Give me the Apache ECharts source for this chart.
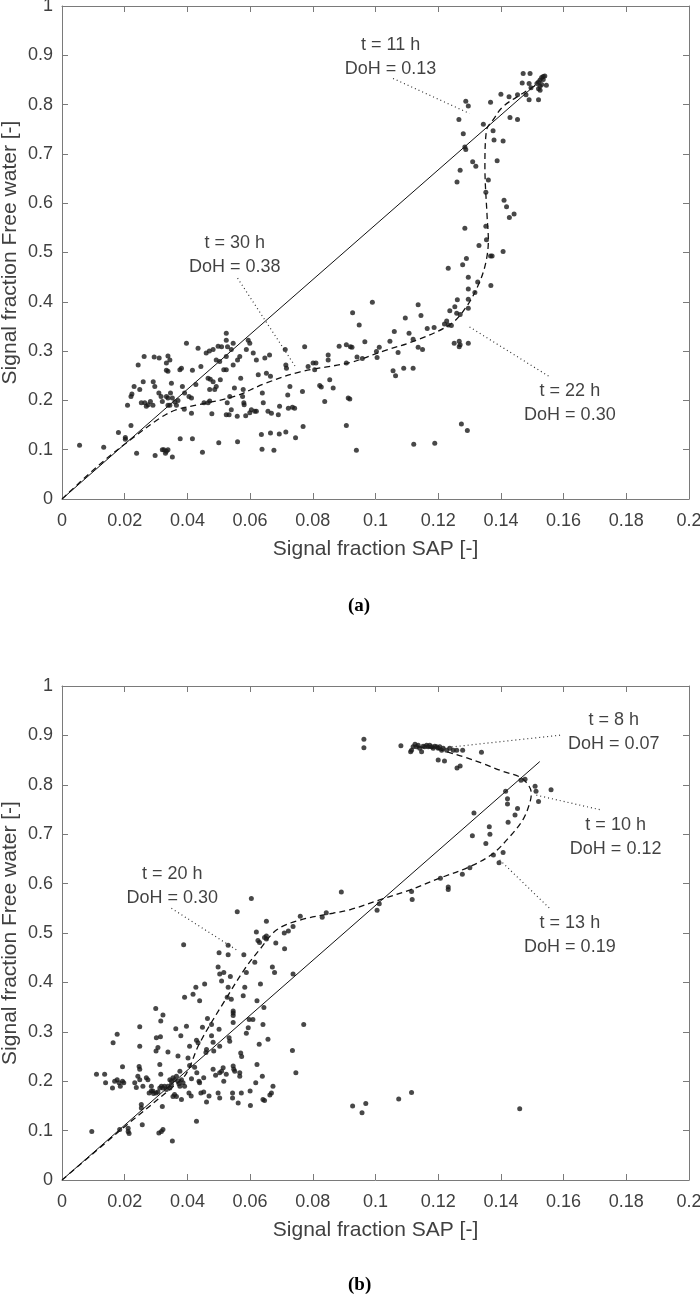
<!DOCTYPE html>
<html><head><meta charset="utf-8">
<script src="https://cdn.jsdelivr.net/npm/echarts@6/dist/echarts.min.js"></script>
<style>html,body{margin:0;padding:0;background:#fff}#c{width:700px;height:1297px}</style>
</head><body><div id="c"></div>
<script>
// ---------- DATA ----------
const xTitle = 'Signal fraction SAP [-]';
const yTitle = 'Signal fraction Free water [-]';
const captionA = '(a)';
const captionB = '(b)';

const pointsA = [
[0.0056,0.109],[0.0133,0.105],[0.018,0.135],[0.0202,0.125],[0.0202,0.121],[0.022,0.149],[0.0238,0.093],[0.0297,0.088],[0.032,0.1],[0.0325,0.1],[0.0333,0.097],[0.033,0.093],[0.0338,0.1],[0.0352,0.085],[0.0377,0.122],[0.0416,0.122],[0.0448,0.095],[0.050,0.114],[0.056,0.116],[0.0638,0.101],[0.0676,0.099],[0.0636,0.131],[0.0665,0.134],[0.0693,0.132],[0.0714,0.136],[0.0745,0.124],[0.0769,0.147],[0.0907,0.149],
[0.0209,0.19],[0.022,0.208],[0.0223,0.213],[0.023,0.228],[0.0243,0.272],[0.0248,0.222],[0.0259,0.238],[0.0262,0.289],[0.0253,0.195],[0.0264,0.195],[0.0269,0.188],[0.0275,0.191],[0.0282,0.198],[0.029,0.19],[0.0294,0.288],[0.0296,0.228],[0.0291,0.238],[0.031,0.286],[0.0309,0.215],[0.0316,0.208],[0.032,0.198],[0.0333,0.276],[0.0338,0.29],[0.0344,0.282],[0.0333,0.261],[0.0338,0.259],[0.0349,0.235],[0.0333,0.208],[0.0338,0.205],[0.0346,0.215],[0.0352,0.205],[0.0338,0.19],[0.0344,0.19],[0.0365,0.19],[0.037,0.2],[0.036,0.197],[0.0376,0.262],[0.0381,0.265],[0.0384,0.228],[0.0391,0.215],[0.0397,0.316],[0.039,0.182],[0.0405,0.208],[0.0413,0.205],[0.0416,0.261],[0.0413,0.174],[0.0427,0.232],[0.0434,0.306],[0.0443,0.269],[0.0453,0.195],[0.0466,0.195],[0.0471,0.199],[0.046,0.296],[0.047,0.3],[0.0482,0.303],[0.0466,0.245],[0.0473,0.243],[0.0482,0.238],[0.0471,0.222],[0.0487,0.222],[0.0492,0.228],[0.0478,0.173],[0.0498,0.31],[0.0509,0.309],[0.0492,0.282],[0.0503,0.279],[0.0505,0.242],[0.0516,0.262],[0.0524,0.262],[0.0524,0.336],[0.0524,0.322],[0.0528,0.309],[0.0524,0.289],[0.0527,0.195],[0.0524,0.171],[0.0533,0.171],[0.0535,0.208],[0.054,0.181],[0.054,0.303],[0.0546,0.316],[0.0546,0.272],[0.055,0.225],[0.0559,0.168],[0.056,0.282],[0.0567,0.289],[0.057,0.245],[0.0576,0.208],[0.0578,0.222],[0.058,0.195],[0.0581,0.191],[0.0586,0.169],[0.0588,0.303],[0.0594,0.322],[0.0599,0.316],[0.0599,0.175],[0.0604,0.181],[0.0615,0.178],[0.062,0.178],[0.061,0.296],[0.062,0.282],[0.0626,0.252],[0.0639,0.215],[0.0642,0.195],[0.0647,0.286],[0.0652,0.255],[0.0657,0.178],[0.0662,0.292],[0.0665,0.249],[0.0668,0.174],[0.069,0.171],[0.0694,0.188],[0.0712,0.303],[0.0714,0.272],[0.0716,0.265],[0.072,0.211],[0.0722,0.184],[0.0727,0.228],[0.0735,0.186],[0.0742,0.184],[0.0767,0.218],[0.0774,0.309],[0.0785,0.269],[0.0801,0.276],[0.081,0.276],[0.0806,0.262],[0.0822,0.23],[0.0827,0.227],[0.0838,0.198],[0.0849,0.292],[0.0849,0.282],[0.0854,0.242],[0.0865,0.225],[0.0884,0.31],[0.0907,0.313],[0.0907,0.276],[0.0913,0.205],
[0.1407,0.502],[0.1367,0.493],[0.1372,0.493],[0.129,0.488],[0.1278,0.475],[0.1232,0.468],[0.1296,0.45],[0.1326,0.44],[0.1296,0.426],[0.1317,0.419],[0.1368,0.433],[0.1261,0.404],[0.1296,0.405],[0.1136,0.394],[0.099,0.399],[0.0927,0.378],[0.0948,0.353],[0.1237,0.382],[0.1253,0.39],[0.1259,0.377],[0.127,0.374],[0.1296,0.387],[0.1095,0.367],[0.1145,0.372],[0.1165,0.346],[0.1187,0.348],[0.122,0.355],[0.1232,0.353],[0.1242,0.352],[0.1227,0.361],[0.106,0.34],[0.1107,0.336],[0.112,0.324],[0.1046,0.32],[0.0966,0.319],[0.092,0.309],[0.0925,0.308],[0.1136,0.308],[0.115,0.303],[0.1012,0.308],[0.1003,0.299],[0.1005,0.287],[0.1072,0.297],[0.0941,0.288],[0.0958,0.285],[0.1251,0.316],[0.1267,0.32],[0.127,0.313],[0.1267,0.309],[0.1296,0.316],[0.1056,0.26],[0.1064,0.25],[0.109,0.265],[0.112,0.265],[0.0918,0.203],[0.1274,0.152],[0.1293,0.139],[0.1122,0.111],[0.1189,0.113],[0.0939,0.099],
[0.1471,0.863],[0.1493,0.863],[0.1468,0.844],[0.149,0.843],[0.1496,0.834],[0.1515,0.843],[0.152,0.846],[0.1525,0.85],[0.153,0.855],[0.1535,0.857],[0.154,0.858],[0.152,0.832],[0.1525,0.837],[0.1525,0.829],[0.153,0.841],[0.1535,0.851],[0.1545,0.839],[0.14,0.821],[0.1426,0.816],[0.1453,0.82],[0.148,0.82],[0.149,0.81],[0.152,0.81],[0.1288,0.807],[0.1296,0.797],[0.1367,0.805],[0.1266,0.77],[0.1344,0.76],[0.1429,0.774],[0.1453,0.77],[0.128,0.741],[0.1375,0.747],[0.1285,0.714],[0.1288,0.709],[0.1378,0.728],[0.1407,0.726],[0.131,0.684],[0.132,0.675],[0.1388,0.686],[0.127,0.667],[0.126,0.643],[0.136,0.647],[0.1352,0.622],[0.141,0.606],[0.1418,0.593],[0.1427,0.571],[0.1442,0.578],[0.1285,0.549],[0.1352,0.553],[0.1354,0.526],[0.133,0.514]
];
const diagA = [[0,0],[0.151,0.84]];
const trendA = [[0,0],[0.012,0.07],[0.023,0.126],[0.031,0.163],[0.036,0.18],[0.044,0.192],[0.055,0.208],[0.065,0.235],[0.076,0.258],[0.092,0.277],[0.102,0.299],[0.113,0.322],[0.124,0.355],[0.129,0.39],[0.133,0.437],[0.1352,0.48],[0.136,0.525],[0.1356,0.573],[0.1349,0.674],[0.1354,0.748],[0.1375,0.769],[0.1407,0.796],[0.147,0.823],[0.1513,0.84]];
const annotA = [
  {text:'t = 11 h\nDoH = 0.13', at:[0.1048,0.897], from:[0.1056,0.853], to:[0.130,0.782]},
  {text:'t = 30 h\nDoH = 0.38', at:[0.0551,0.495], from:[0.056,0.448], to:[0.0748,0.265]},
  {text:'t = 22 h\nDoH = 0.30', at:[0.162,0.195], from:[0.130,0.349], to:[0.1555,0.248]}
];

const pointsB = [
[0.0095,0.098],[0.011,0.214],[0.0136,0.214],[0.0139,0.197],[0.0163,0.278],[0.0176,0.295],[0.0161,0.186],[0.0168,0.2],[0.0176,0.203],[0.0182,0.197],[0.0186,0.19],[0.0193,0.2],[0.0197,0.197],[0.0193,0.229],[0.0184,0.102],[0.0211,0.105],[0.0211,0.098],[0.0214,0.094],[0.0232,0.197],[0.0237,0.187],[0.0242,0.21],[0.0248,0.203],[0.0246,0.23],[0.0248,0.224],[0.0248,0.31],[0.0248,0.271],[0.0253,0.153],[0.0253,0.146],[0.0256,0.112],[0.0258,0.19],[0.0269,0.207],[0.0274,0.203],[0.0285,0.19],[0.0278,0.176],[0.0285,0.18],[0.029,0.18],[0.0292,0.175],[0.03,0.176],[0.0306,0.178],[0.0299,0.347],[0.03,0.261],[0.0306,0.268],[0.0301,0.288],[0.0314,0.29],[0.0309,0.095],[0.0317,0.098],[0.0322,0.102],[0.0315,0.322],[0.0322,0.334],[0.0312,0.234],[0.0315,0.214],[0.032,0.149],[0.0312,0.186],[0.0317,0.19],[0.0322,0.186],[0.0327,0.19],[0.0333,0.183],[0.0338,0.19],[0.0344,0.186],[0.0349,0.193],[0.0352,0.079],[0.0338,0.259],[0.0344,0.203],[0.0349,0.2],[0.0354,0.207],[0.0359,0.203],[0.0365,0.21],[0.037,0.2],[0.0373,0.195],[0.0376,0.19],[0.0381,0.203],[0.0386,0.197],[0.0391,0.19],[0.0354,0.169],[0.0359,0.173],[0.0365,0.169],[0.0363,0.306],[0.037,0.251],[0.0376,0.22],[0.0379,0.292],[0.0381,0.163],[0.0391,0.37],[0.0397,0.311],[0.0402,0.247],[0.0407,0.232],[0.0405,0.176],[0.0412,0.17],[0.0407,0.271],[0.0413,0.205],[0.0418,0.376],[0.0423,0.228],[0.043,0.217],[0.0427,0.39],[0.0429,0.119],[0.0429,0.283],[0.0434,0.278],[0.0439,0.363],[0.0437,0.2],[0.0439,0.197],[0.0443,0.176],[0.0452,0.178],[0.0448,0.309],[0.0452,0.207],[0.0459,0.258],[0.0461,0.264],[0.0455,0.397],[0.0461,0.158],[0.0464,0.327],[0.0469,0.17],[0.0477,0.292],[0.0477,0.315],[0.0482,0.279],[0.0484,0.261],[0.0482,0.224],[0.049,0.212],[0.0498,0.431],[0.0498,0.176],[0.0501,0.46],[0.0503,0.417],[0.0516,0.42],[0.0501,0.305],[0.0503,0.271],[0.0503,0.217],[0.0509,0.22],[0.0503,0.166],[0.0509,0.403],[0.0514,0.227],[0.0516,0.2],[0.0524,0.214],[0.0527,0.37],[0.053,0.456],[0.053,0.475],[0.053,0.39],[0.0535,0.281],[0.0533,0.288],[0.0537,0.412],[0.054,0.366],[0.0546,0.342],[0.0546,0.338],[0.0546,0.333],[0.0546,0.319],[0.0544,0.176],[0.0544,0.166],[0.0546,0.231],[0.0548,0.224],[0.0551,0.22],[0.0562,0.156],[0.0567,0.21],[0.0567,0.217],[0.057,0.257],[0.0573,0.25],[0.0572,0.176],[0.058,0.456],[0.0578,0.373],[0.0583,0.39],[0.0588,0.297],[0.0588,0.42],[0.0594,0.308],[0.0597,0.325],[0.06,0.18],[0.0601,0.151],[0.0609,0.325],[0.0615,0.441],[0.0618,0.197],[0.0622,0.363],[0.0622,0.234],[0.0629,0.275],[0.063,0.481],[0.0633,0.397],[0.0639,0.21],[0.0641,0.163],[0.0646,0.161],[0.0641,0.315],[0.0644,0.349],[0.0652,0.488],[0.0657,0.285],[0.0663,0.172],[0.0668,0.176],[0.0671,0.431],[0.0673,0.19],[0.0678,0.42],[0.0682,0.48],[0.071,0.468],[0.0735,0.262],[0.0737,0.417],[0.0746,0.217],[0.0771,0.315],
[0.0388,0.476],[0.0559,0.543],[0.0604,0.57],[0.062,0.502],[0.0625,0.485],[0.0646,0.491],[0.0652,0.494],[0.0652,0.524],[0.0709,0.5],[0.0722,0.504],[0.0737,0.513],[0.076,0.534],[0.0891,0.583],[0.083,0.532],[0.0843,0.541],
[0.0963,0.892],[0.0963,0.875],[0.1081,0.879],[0.1115,0.87],[0.112,0.877],[0.1126,0.882],[0.1131,0.877],[0.1136,0.88],[0.1141,0.874],[0.1147,0.867],[0.1152,0.878],[0.1157,0.877],[0.1163,0.88],[0.1168,0.877],[0.1173,0.88],[0.1179,0.877],[0.1184,0.874],[0.1189,0.878],[0.1195,0.877],[0.12,0.874],[0.1205,0.877],[0.1211,0.87],[0.1216,0.874],[0.1227,0.87],[0.1237,0.874],[0.1248,0.87],[0.1259,0.87],[0.1278,0.87],[0.1338,0.866],[0.1112,0.867],
[0.12,0.85],[0.122,0.848],[0.126,0.834],[0.127,0.838],[0.1464,0.809],[0.1477,0.811],[0.1415,0.787],[0.1509,0.797],[0.1512,0.787],[0.156,0.79],[0.152,0.766],[0.1421,0.772],[0.1421,0.761],[0.1453,0.752],[0.1445,0.739],[0.1314,0.743],[0.1423,0.724],[0.1363,0.715],[0.1365,0.7],[0.1309,0.697],[0.1352,0.681],[0.1376,0.658],[0.1407,0.663],[0.1394,0.642],[0.1301,0.632],[0.1277,0.619],[0.1207,0.611],[0.1232,0.593],[0.1232,0.588],[0.1115,0.584],[0.1117,0.568],[0.1012,0.559],[0.1005,0.546],
[0.0927,0.15],[0.0957,0.136],[0.0969,0.155],[0.1074,0.164],[0.1115,0.177],[0.146,0.144]
];
const diagB = [[0,0],[0.1524,0.847]];
const trendB = [[0,0],[0.02,0.108],[0.036,0.192],[0.0397,0.216],[0.0439,0.277],[0.0524,0.368],[0.0588,0.432],[0.063,0.466],[0.0684,0.506],[0.0758,0.526],[0.0864,0.54],[0.0918,0.547],[0.1013,0.567],[0.1109,0.587],[0.1205,0.611],[0.13,0.634],[0.1375,0.661],[0.1428,0.695],[0.147,0.729],[0.1492,0.763],[0.1497,0.783],[0.1487,0.8],[0.146,0.816],[0.1407,0.827],[0.1343,0.843],[0.128,0.857],[0.1226,0.867],[0.1184,0.874],[0.112,0.877]];
const annotB = [
  {text:'t = 8 h\nDoH = 0.07', at:[0.176,0.906], from:[0.1205,0.874], to:[0.1598,0.901]},
  {text:'t = 10 h\nDoH = 0.12', at:[0.1766,0.695], from:[0.1513,0.779], to:[0.172,0.749]},
  {text:'t = 13 h\nDoH = 0.19', at:[0.162,0.496], from:[0.1396,0.648], to:[0.156,0.547]},
  {text:'t = 20 h\nDoH = 0.30', at:[0.0352,0.595], from:[0.0349,0.55], to:[0.0556,0.466]}
];
const xMin = 0, xMax = 0.2, xStep = 0.02;
const yMin = 0, yMax = 1, yStep = 0.1;

// ---------- CHART ----------
const FONT = '"Liberation Sans", Arial, sans-serif';
const AX = '#7a7a7a', LBL = '#404040', INK = '#111';
const fmt = v => String(+v.toFixed(2));

function xAx(grid, pos, labels){
  return {type:'value', gridIndex:grid, position:pos, min:xMin, max:xMax, interval:xStep,
    axisLine:{show:true, onZero:false, lineStyle:{color:AX, width:1}},
    axisTick:{show:true, inside:true, length:6, lineStyle:{color:AX}},
    axisLabel:{show:labels, fontSize:18, color:LBL, margin:13, fontFamily:FONT, formatter:fmt, hideOverlap:false},
    splitLine:{show:false},
    name: labels ? xTitle : '', nameLocation:'middle', nameGap:40, nameMoveOverlap:false,
    nameTextStyle:{fontSize:21, color:LBL, fontFamily:FONT}};
}
function yAx(grid, pos, labels){
  return {type:'value', gridIndex:grid, position:pos, min:yMin, max:yMax, interval:yStep,
    axisLine:{show:true, onZero:false, lineStyle:{color:AX, width:1}},
    axisTick:{show:true, inside:true, length:6, lineStyle:{color:AX}},
    axisLabel:{show:labels, fontSize:18, color:LBL, margin:9, fontFamily:FONT, formatter:fmt, hideOverlap:false},
    splitLine:{show:false},
    name: labels ? yTitle : '', nameLocation:'middle', nameGap:41, nameMoveOverlap:false,
    nameTextStyle:{fontSize:21, color:LBL, fontFamily:FONT}};
}

function panelSeries(xi, yi, pts, diag, trend, annots){
  const s = [];
  s.push({type:'line', xAxisIndex:xi, yAxisIndex:yi, data:diag, showSymbol:false, symbol:'none',
    lineStyle:{color:INK, width:1}, z:2});
  s.push({type:'line', xAxisIndex:xi, yAxisIndex:yi, data:trend, showSymbol:false, symbol:'none', smooth:0.35,
    lineStyle:{color:INK, width:1.3, type:[6,4]}, z:2});
  annots.forEach(a => {
    s.push({type:'line', xAxisIndex:xi, yAxisIndex:yi, data:[a.from, a.to], showSymbol:false, symbol:'none',
      lineStyle:{color:'#333', width:1.2, type:[1,3]}, z:2});
  });
  s.push({type:'scatter', xAxisIndex:xi, yAxisIndex:yi, data:pts, symbol:'circle', symbolSize:5,
    itemStyle:{color:'#1a1a1a'}, z:3});
  s.push({type:'scatter', xAxisIndex:xi, yAxisIndex:yi, symbolSize:1, itemStyle:{color:'rgba(0,0,0,0)'},
    data: annots.map(a => ({value:a.at, name:a.text})),
    label:{show:true, position:'inside', formatter:'{b}', fontSize:18, lineHeight:24, color:INK,
      fontFamily:FONT, align:'center', verticalAlign:'middle'}, z:4});
  return s;
}

const chart = echarts.init(document.getElementById('c'), null, {renderer:'canvas'});
chart.setOption({
  animation:false,
  backgroundColor:'#fff',
  grid:[
    {left:62, top:6, width:627, height:493, containLabel:false, outerBoundsMode:'none'},
    {left:62, top:686, width:627, height:494, containLabel:false, outerBoundsMode:'none'}
  ],
  xAxis:[xAx(0,'bottom',true), xAx(0,'top',false), xAx(1,'bottom',true), xAx(1,'top',false)],
  yAxis:[yAx(0,'left',true), yAx(0,'right',false), yAx(1,'left',true), yAx(1,'right',false)],
  series:[].concat(
    panelSeries(0, 0, pointsA, diagA, trendA, annotA),
    panelSeries(2, 2, pointsB, diagB, trendB, annotB)
  ),
  graphic:[
    {type:'text', left:360-12, top:608-11, style:{text:captionA, font:'bold 19px "Liberation Serif", "Times New Roman", serif', fill:'#000'}},
    {type:'text', left:360-12, top:1287-11, style:{text:captionB, font:'bold 19px "Liberation Serif", "Times New Roman", serif', fill:'#000'}}
  ]
});
</script>
</body></html>
